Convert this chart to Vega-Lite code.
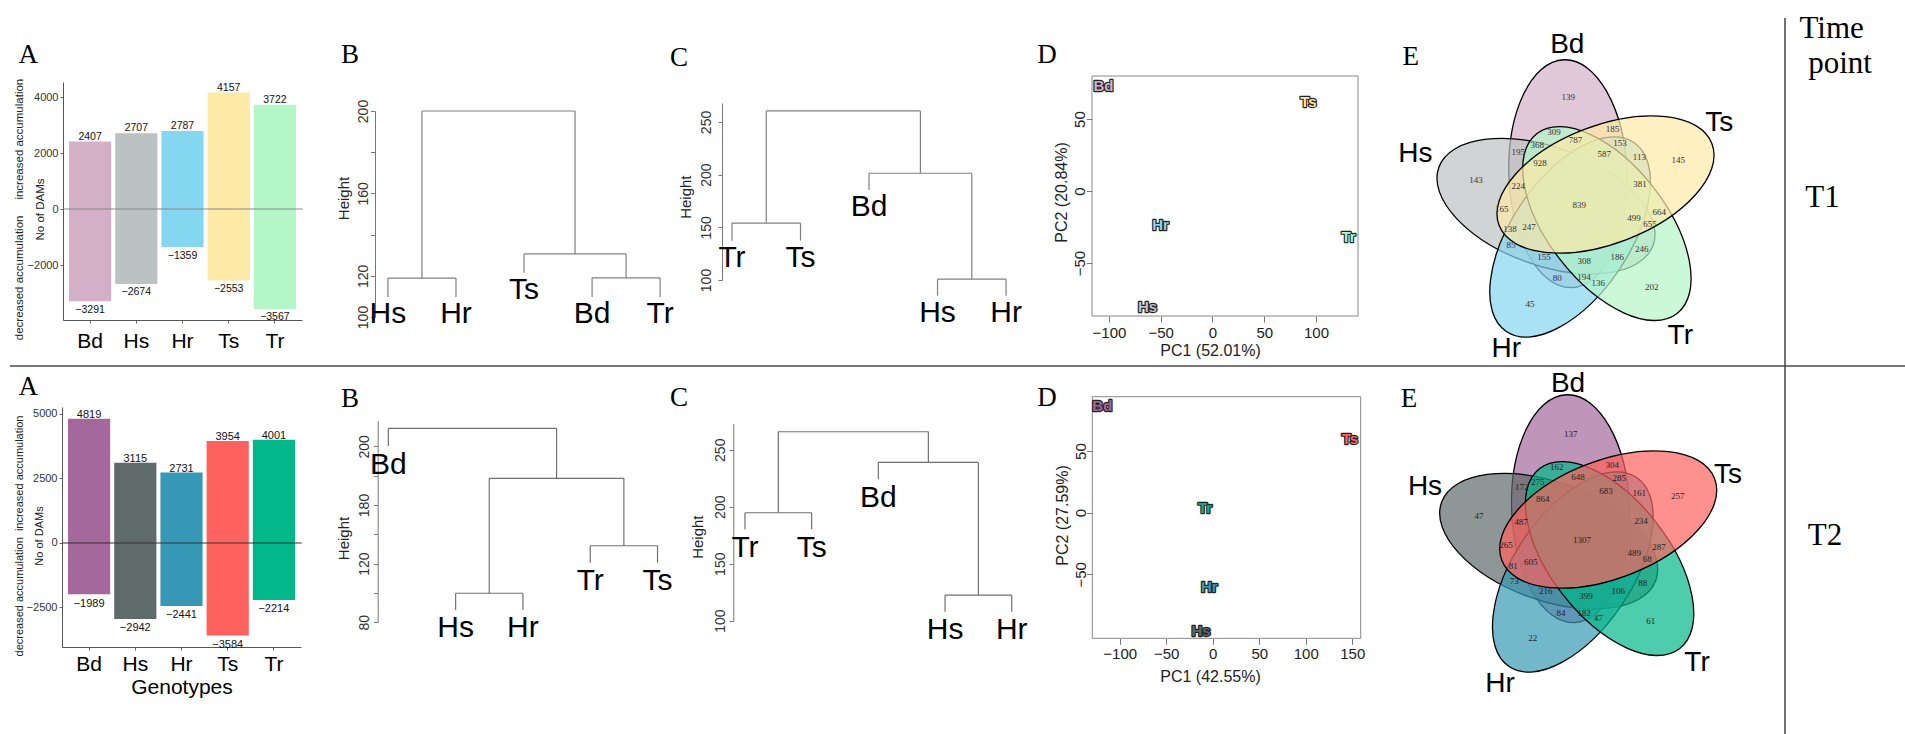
{
  "$schema": "https://vega.github.io/schema/vega-lite/v6.json",
  "width": 1905,
  "height": 734,
  "padding": 0,
  "autosize": {"type": "none"},
  "background": "white",
  "config": {
    "view": {"stroke": null},
    "font": "Liberation Sans",
    "axis": {"grid": false, "labelFont": "Liberation Sans", "titleFont": "Liberation Sans", "titleFontWeight": "normal", "labelColor": "#333", "titleColor": "#222", "domainColor": "#666", "tickColor": "#666", "labelOverlap": false, "labelFlush": false},
    "text": {"font": "Liberation Sans"}
  },
  "datasets": {
    "barsT1": [{"g":"Bd","up":2407,"down":-3291},{"g":"Hs","up":2707,"down":-2674},{"g":"Hr","up":2787,"down":-1359},{"g":"Ts","up":4157,"down":-2553},{"g":"Tr","up":3722,"down":-3567}],
    "barsT2": [{"g":"Bd","up":4819,"down":-1989},{"g":"Hs","up":3115,"down":-2942},{"g":"Hr","up":2731,"down":-2441},{"g":"Ts","up":3954,"down":-3584},{"g":"Tr","up":4001,"down":-2214}],
    "B1seg": [{"x":1,"x2":2,"y":118.9,"y2":118.9},{"x":1,"x2":1,"y":118.9,"y2":109.7},{"x":2,"x2":2,"y":118.9,"y2":109.7},{"x":4,"x2":5,"y":119,"y2":119},{"x":4,"x2":4,"y":119,"y2":109.7},{"x":5,"x2":5,"y":119,"y2":109.7},{"x":3,"x2":4.5,"y":130.6,"y2":130.6},{"x":3,"x2":3,"y":130.6,"y2":121.5},{"x":4.5,"x2":4.5,"y":130.6,"y2":119},{"x":1.5,"x2":3.75,"y":200,"y2":200},{"x":1.5,"x2":1.5,"y":200,"y2":118.9},{"x":3.75,"x2":3.75,"y":200,"y2":130.6}],
    "B1leaf": [{"label":"Hs","pos":1,"end":109.7},{"label":"Hr","pos":2,"end":109.7},{"label":"Ts","pos":3,"end":121.5},{"label":"Bd","pos":4,"end":109.7},{"label":"Tr","pos":5,"end":109.7}],
    "C1seg": [{"x":1,"x2":2,"y":154,"y2":154},{"x":1,"x2":1,"y":154,"y2":137.3},{"x":2,"x2":2,"y":154,"y2":137.3},{"x":4,"x2":5,"y":100.9,"y2":100.9},{"x":4,"x2":4,"y":100.9,"y2":85.1},{"x":5,"x2":5,"y":100.9,"y2":85.1},{"x":3,"x2":4.5,"y":201.3,"y2":201.3},{"x":3,"x2":3,"y":201.3,"y2":185.5},{"x":4.5,"x2":4.5,"y":201.3,"y2":100.9},{"x":1.5,"x2":3.75,"y":260.5,"y2":260.5},{"x":1.5,"x2":1.5,"y":260.5,"y2":154},{"x":3.75,"x2":3.75,"y":260.5,"y2":201.3}],
    "C1leaf": [{"label":"Tr","pos":1,"end":137.3},{"label":"Ts","pos":2,"end":137.3},{"label":"Bd","pos":3,"end":185.5},{"label":"Hs","pos":4,"end":85.1},{"label":"Hr","pos":5,"end":85.1}],
    "B2seg": [{"x":2,"x2":3,"y":99.8,"y2":99.8},{"x":2,"x2":2,"y":99.8,"y2":88.4},{"x":3,"x2":3,"y":99.8,"y2":88.4},{"x":4,"x2":5,"y":132.2,"y2":132.2},{"x":4,"x2":4,"y":132.2,"y2":120.6},{"x":5,"x2":5,"y":132.2,"y2":120.6},{"x":2.5,"x2":4.5,"y":178.2,"y2":178.2},{"x":2.5,"x2":2.5,"y":178.2,"y2":99.8},{"x":4.5,"x2":4.5,"y":178.2,"y2":132.2},{"x":1,"x2":3.5,"y":212.3,"y2":212.3},{"x":1,"x2":1,"y":212.3,"y2":200.2},{"x":3.5,"x2":3.5,"y":212.3,"y2":178.2}],
    "B2leaf": [{"label":"Bd","pos":1,"end":200.2},{"label":"Hs","pos":2,"end":88.4},{"label":"Hr","pos":3,"end":88.4},{"label":"Tr","pos":4,"end":120.6},{"label":"Ts","pos":5,"end":120.6}],
    "C2seg": [{"x":1,"x2":2,"y":194.7,"y2":194.7},{"x":1,"x2":1,"y":194.7,"y2":180.2},{"x":2,"x2":2,"y":194.7,"y2":180.2},{"x":4,"x2":5,"y":122.5,"y2":122.5},{"x":4,"x2":4,"y":122.5,"y2":107.9},{"x":5,"x2":5,"y":122.5,"y2":107.9},{"x":3,"x2":4.5,"y":238.9,"y2":238.9},{"x":3,"x2":3,"y":238.9,"y2":224},{"x":4.5,"x2":4.5,"y":238.9,"y2":122.5},{"x":1.5,"x2":3.75,"y":265.8,"y2":265.8},{"x":1.5,"x2":1.5,"y":265.8,"y2":194.7},{"x":3.75,"x2":3.75,"y":265.8,"y2":238.9}],
    "C2leaf": [{"label":"Tr","pos":1,"end":180.2},{"label":"Ts","pos":2,"end":180.2},{"label":"Bd","pos":3,"end":224},{"label":"Hs","pos":4,"end":107.9},{"label":"Hr","pos":5,"end":107.9}],
    "pcaT1": [{"label":"Bd","pc1":-105.3,"pc2":72.9},{"label":"Ts","pc1":92.8,"pc2":61.8},{"label":"Hr","pc1":-50.2,"pc2":-23.6},{"label":"Tr","pc1":131.4,"pc2":-31.9},{"label":"Hs","pc1":-62.8,"pc2":-80.6}],
    "pcaT2": [{"label":"Bd","pc1":-118.7,"pc2":86.5},{"label":"Ts","pc1":147.6,"pc2":59.5},{"label":"Tr","pc1":-8.3,"pc2":4.1},{"label":"Hr","pc1":-3.7,"pc2":-60},{"label":"Hs","pc1":-12.6,"pc2":-95.7}],
    "ell": [{"set":"Bd","cx":-0.114,"cy":0.313,"rot":-92},{"set":"Hs","cx":-0.333,"cy":-0.012,"rot":200},{"set":"Hr","cx":-0.092,"cy":-0.32,"rot":124},{"set":"Tr","cx":0.276,"cy":-0.186,"rot":52},{"set":"Ts","cx":0.262,"cy":0.205,"rot":-21}],
    "E1num": [{"n":139,"x":-0.11,"y":1.077},{"n":309,"x":-0.253,"y":0.733},{"n":185,"x":0.333,"y":0.757},{"n":787,"x":-0.037,"y":0.65},{"n":368,"x":-0.42,"y":0.6},{"n":153,"x":0.407,"y":0.623},{"n":195,"x":-0.61,"y":0.533},{"n":587,"x":0.25,"y":0.507},{"n":113,"x":0.6,"y":0.483},{"n":145,"x":0.99,"y":0.45},{"n":928,"x":-0.393,"y":0.423},{"n":143,"x":-1.033,"y":0.25},{"n":224,"x":-0.61,"y":0.19},{"n":381,"x":0.607,"y":0.21},{"n":839,"x":0,"y":0},{"n":165,"x":-0.776,"y":-0.043},{"n":664,"x":0.8,"y":-0.073},{"n":499,"x":0.547,"y":-0.133},{"n":655,"x":0.707,"y":-0.193},{"n":138,"x":-0.693,"y":-0.243},{"n":247,"x":-0.503,"y":-0.223},{"n":85,"x":-0.683,"y":-0.4},{"n":246,"x":0.624,"y":-0.443},{"n":155,"x":-0.353,"y":-0.517},{"n":308,"x":0.05,"y":-0.557},{"n":186,"x":0.38,"y":-0.517},{"n":80,"x":-0.22,"y":-0.727},{"n":194,"x":0.047,"y":-0.723},{"n":136,"x":0.19,"y":-0.783},{"n":202,"x":0.724,"y":-0.817},{"n":45,"x":-0.493,"y":-0.99}],
    "E2num": [{"n":137,"x":-0.113,"y":1.06},{"n":162,"x":-0.253,"y":0.727},{"n":304,"x":0.303,"y":0.747},{"n":648,"x":-0.04,"y":0.633},{"n":285,"x":0.373,"y":0.617},{"n":275,"x":-0.443,"y":0.583},{"n":172,"x":-0.603,"y":0.527},{"n":683,"x":0.24,"y":0.493},{"n":161,"x":0.573,"y":0.473},{"n":257,"x":0.957,"y":0.44},{"n":864,"x":-0.393,"y":0.413},{"n":47,"x":-1.03,"y":0.243},{"n":234,"x":0.59,"y":0.193},{"n":487,"x":-0.61,"y":0.177},{"n":1307,"x":0,"y":0},{"n":265,"x":-0.76,"y":-0.05},{"n":287,"x":0.77,"y":-0.073},{"n":489,"x":0.523,"y":-0.133},{"n":68,"x":0.653,"y":-0.193},{"n":81,"x":-0.687,"y":-0.26},{"n":605,"x":-0.513,"y":-0.22},{"n":73,"x":-0.677,"y":-0.41},{"n":88,"x":0.607,"y":-0.433},{"n":216,"x":-0.363,"y":-0.51},{"n":399,"x":0.04,"y":-0.56},{"n":106,"x":0.363,"y":-0.51},{"n":84,"x":-0.21,"y":-0.727},{"n":182,"x":0.02,"y":-0.727},{"n":47,"x":0.163,"y":-0.777},{"n":61,"x":0.687,"y":-0.81},{"n":22,"x":-0.493,"y":-0.977}],
    "E1lab": [{"set":"Bd","x":-0.12,"y":1.6},{"set":"Ts","x":1.4,"y":0.82},{"set":"Tr","x":1.01,"y":-1.31},{"set":"Hr","x":-0.73,"y":-1.44},{"set":"Hs","x":-1.64,"y":0.51}],
    "E2lab": [{"set":"Bd","x":-0.14,"y":1.56},{"set":"Ts","x":1.46,"y":0.65},{"set":"Tr","x":1.15,"y":-1.23},{"set":"Hr","x":-0.82,"y":-1.44},{"set":"Hs","x":-1.57,"y":0.53}]
  },
  "layer": [
    {"data": {"name": "barsT1"}, "mark": {"type": "bar"},
     "encoding": {
       "x": {"field": "g", "type": "nominal", "scale": {"type": "band", "domain": ["Bd","Hs","Hr","Ts","Tr"], "range": [63, 302], "paddingInner": 0.087, "paddingOuter": 0.13},
             "axis": {"orient": "bottom", "offset": -414, "title": null, "labelAngle": 0, "labelFontSize": 21, "labelColor": "#000", "tickSize": 3, "labelPadding": 7, "domainColor": "#555"}},
       "y": {"field": "down", "type": "quantitative", "scale": {"domain": [-3964, 4536], "range": [320, 82], "zero": false, "nice": false},
             "axis": {"orient": "left", "offset": -63, "values": [-2000, 0, 2000, 4000], "format": "d", "labelFontSize": 11, "tickSize": 3, "labelPadding": 2, "domainColor": "#555",
                      "title": ["decreased accumulation\u00a0\u00a0\u00a0\u00a0\u00a0increased accumulation", "No of DAMs"], "titleFontSize": 11.5, "titleLineHeight": 21, "titleAngle": 270, "titleBaseline": "bottom", "titleAlign": "center", "titleX": -38.7, "titleY": 209}},
       "y2": {"field": "up"},
       "color": {"field": "g", "type": "nominal", "scale": {"domain": ["Bd","Hs","Hr","Ts","Tr"], "range": ["#d3b0c8","#bcc2c3","#85d6f0","#fdeaa7","#b5f6c8"]}, "legend": null}
     }},
    {"data": {"values": [{}]}, "mark": {"type": "rule", "color": "#888", "strokeWidth": 1},
     "encoding": {"x": {"datum": "Bd", "type": "nominal", "bandPosition": -0.14, "scale": {"type": "band", "domain": ["Bd","Hs","Hr","Ts","Tr"], "range": [63, 302], "paddingInner": 0.087, "paddingOuter": 0.13}, "axis": null},
                  "x2": {"datum": "Tr", "bandPosition": 1.16},
                  "y": {"datum": 0, "type": "quantitative", "scale": {"domain": [-3964, 4536], "range": [320, 82], "zero": false, "nice": false}, "axis": null}}},
    {"data": {"name": "barsT1"}, "mark": {"type": "text", "baseline": "alphabetic", "dy": -2, "fontSize": 10.5, "color": "#111"},
     "encoding": {"x": {"field": "g", "type": "nominal", "scale": {"type": "band", "domain": ["Bd","Hs","Hr","Ts","Tr"], "range": [63, 302], "paddingInner": 0.087, "paddingOuter": 0.13}, "axis": null},
                  "y": {"field": "up", "type": "quantitative", "scale": {"domain": [-3964, 4536], "range": [320, 82], "zero": false, "nice": false}, "axis": null},
                  "text": {"field": "up", "type": "quantitative", "format": "d"}}},
    {"data": {"name": "barsT1"}, "mark": {"type": "text", "baseline": "top", "dy": 3.5, "fontSize": 10.5, "color": "#111"},
     "encoding": {"x": {"field": "g", "type": "nominal", "scale": {"type": "band", "domain": ["Bd","Hs","Hr","Ts","Tr"], "range": [63, 302], "paddingInner": 0.087, "paddingOuter": 0.13}, "axis": null},
                  "y": {"field": "down", "type": "quantitative", "scale": {"domain": [-3964, 4536], "range": [320, 82], "zero": false, "nice": false}, "axis": null},
                  "text": {"field": "down", "type": "quantitative", "format": "d"}}},

    {"data": {"name": "B1seg"}, "mark": {"type": "rule", "color": "#808080", "strokeWidth": 1.2},
     "encoding": {
       "x": {"field": "x", "type": "quantitative", "scale": {"domain": [0.81, 5.16], "range": [375, 671], "zero": false, "nice": false}, "axis": null},
       "x2": {"field": "x2"},
       "y": {"field": "y", "type": "quantitative", "scale": {"domain": [100, 200], "range": [317, 111], "zero": false, "nice": false},
             "axis": {"orient": "left", "offset": -375, "values": [100, 120, 140, 160, 180, 200], "labelExpr": "datum.value == 140 || datum.value == 180 ? '' : datum.label", "labelAngle": 270, "labelAlign": "center", "labelBaseline": "middle", "labelFontSize": 14, "tickSize": 4.5, "labelPadding": 6.7, "domainColor": "#777", "tickColor": "#777",
                      "title": "Height", "titleFontSize": 15, "titleAngle": 270, "titleBaseline": "bottom", "titleAlign": "center", "titleX": -23.1, "titleY": 198}},
       "y2": {"field": "y2"}}},
    {"data": {"name": "B1leaf"}, "mark": {"type": "text", "baseline": "top", "align": "center", "fontSize": 30, "dy": 2, "color": "#000"},
     "encoding": {"x": {"field": "pos", "type": "quantitative", "scale": {"domain": [0.81, 5.16], "range": [375, 671], "zero": false, "nice": false}, "axis": null},
                  "y": {"field": "end", "type": "quantitative", "scale": {"domain": [100, 200], "range": [317, 111], "zero": false, "nice": false}, "axis": null},
                  "text": {"field": "label"}}},

    {"data": {"name": "C1seg"}, "mark": {"type": "rule", "color": "#808080", "strokeWidth": 1.2},
     "encoding": {
       "x": {"field": "x", "type": "quantitative", "scale": {"domain": [0.854, 5.16], "range": [722, 1017], "zero": false, "nice": false}, "axis": null},
       "x2": {"field": "x2"},
       "y": {"field": "y", "type": "quantitative", "scale": {"domain": [100, 268], "range": [280, 103], "zero": false, "nice": false},
             "axis": {"orient": "left", "offset": -722, "values": [100, 150, 200, 250], "labelAngle": 270, "labelAlign": "center", "labelBaseline": "middle", "labelFontSize": 14, "tickSize": 4, "labelPadding": 11.5, "domainColor": "#777", "tickColor": "#777",
                      "title": "Height", "titleFontSize": 15, "titleAngle": 270, "titleBaseline": "bottom", "titleAlign": "center", "titleX": -28.4, "titleY": 196.7}},
       "y2": {"field": "y2"}}},
    {"data": {"name": "C1leaf"}, "mark": {"type": "text", "baseline": "top", "align": "center", "fontSize": 30, "dy": 2, "color": "#000"},
     "encoding": {"x": {"field": "pos", "type": "quantitative", "scale": {"domain": [0.854, 5.16], "range": [722, 1017], "zero": false, "nice": false}, "axis": null},
                  "y": {"field": "end", "type": "quantitative", "scale": {"domain": [100, 268], "range": [280, 103], "zero": false, "nice": false}, "axis": null},
                  "text": {"field": "label"}}},

    {"data": {"values": [{}]}, "mark": {"type": "rect", "filled": false, "stroke": "#888", "strokeWidth": 1},
     "encoding": {
       "x": {"datum": -116.4, "type": "quantitative", "scale": {"domain": [-116.4, 140.6], "range": [1092, 1358], "zero": false, "nice": false},
             "axis": {"orient": "bottom", "offset": -418, "values": [-100, -50, 0, 50, 100], "domain": false, "tickSize": 6, "tickColor": "#777", "labelPadding": 3.5, "labelFontSize": 15, "labelColor": "#222",
                      "title": "PC1 (52.01%)", "titleFontSize": 16, "titleY": 26, "titleX": 1210, "titleBaseline": "top", "titleAlign": "center"}},
       "x2": {"datum": 140.6},
       "y": {"datum": -86.8, "type": "quantitative", "scale": {"domain": [-86.8, 79.9], "range": [316, 76], "zero": false, "nice": false},
             "axis": {"orient": "left", "offset": -1092, "values": [-50, 0, 50], "domain": false, "tickSize": 5.7, "tickColor": "#777", "labelPadding": 7.3, "labelAngle": 270, "labelAlign": "center", "labelBaseline": "middle", "labelFontSize": 15, "labelColor": "#222",
                      "title": "PC2 (20.84%)", "titleFontSize": 16, "titleAngle": 270, "titleBaseline": "bottom", "titleAlign": "center", "titleX": -22.6, "titleY": 192}},
       "y2": {"datum": 79.9}}},
    {"data": {"name": "pcaT1"}, "mark": {"type": "text", "fontSize": 15, "fontWeight": "bold", "stroke": "#222", "strokeWidth": 2.4, "strokeJoin": "round"},
     "encoding": {"x": {"field": "pc1", "type": "quantitative", "scale": {"domain": [-116.4, 140.6], "range": [1092, 1358], "zero": false, "nice": false}, "axis": null},
                  "y": {"field": "pc2", "type": "quantitative", "scale": {"domain": [-86.8, 79.9], "range": [316, 76], "zero": false, "nice": false}, "axis": null},
                  "text": {"field": "label"},
                  "color": {"field": "label", "type": "nominal", "scale": {"domain": ["Bd","Hs","Hr","Ts","Tr"], "range": ["#d3b0c8","#bcc2c3","#85d6f0","#fdeaa7","#b5f6c8"]}, "legend": null}}},
    {"data": {"name": "pcaT1"}, "mark": {"type": "text", "fontSize": 15, "fontWeight": "bold"},
     "encoding": {"x": {"field": "pc1", "type": "quantitative", "scale": {"domain": [-116.4, 140.6], "range": [1092, 1358], "zero": false, "nice": false}, "axis": null},
                  "y": {"field": "pc2", "type": "quantitative", "scale": {"domain": [-86.8, 79.9], "range": [316, 76], "zero": false, "nice": false}, "axis": null},
                  "text": {"field": "label"},
                  "color": {"field": "label", "type": "nominal", "scale": {"domain": ["Bd","Hs","Hr","Ts","Tr"], "range": ["#d3b0c8","#bcc2c3","#85d6f0","#fdeaa7","#b5f6c8"]}, "legend": null}}},

    {"data": {"name": "ell"},
     "mark": {"type": "point", "shape": "M 1 0 C 1 0.2858 0.5523 0.5175 0 0.5175 C -0.5523 0.5175 -1 0.2858 -1 0 C -1 -0.2858 -0.5523 -0.5175 0 -0.5175 C 0.5523 -0.5175 1 -0.2858 1 0 Z", "size": 51984, "filled": true, "opacity": 1, "fillOpacity": 0.7, "stroke": "#000", "strokeWidth": 1.3, "strokeOpacity": 1},
     "encoding": {
       "x": {"field": "cx", "type": "quantitative", "scale": {"domain": [-2, 2], "range": [1379.3, 1779.3], "zero": false, "nice": false}, "axis": null},
       "y": {"field": "cy", "type": "quantitative", "scale": {"domain": [-2, 2], "range": [405, 5], "zero": false, "nice": false}, "axis": null},
       "angle": {"field": "rot", "type": "quantitative", "scale": null},
       "color": {"field": "set", "type": "nominal", "scale": {"domain": ["Bd","Hs","Hr","Ts","Tr"], "range": ["#d3b0c8","#bcc2c3","#85d6f0","#fdeaa7","#b5f6c8"]}, "legend": null}}},
    {"data": {"name": "E1num"}, "mark": {"type": "text", "font": "Liberation Serif", "fontSize": 9, "color": "#333"},
     "encoding": {"x": {"field": "x", "type": "quantitative", "scale": {"domain": [-2, 2], "range": [1379.3, 1779.3], "zero": false, "nice": false}, "axis": null},
                  "y": {"field": "y", "type": "quantitative", "scale": {"domain": [-2, 2], "range": [405, 5], "zero": false, "nice": false}, "axis": null},
                  "text": {"field": "n", "type": "nominal"}}},
    {"data": {"name": "E1lab"}, "mark": {"type": "text", "fontSize": 28, "color": "#000"},
     "encoding": {"x": {"field": "x", "type": "quantitative", "scale": {"domain": [-2, 2], "range": [1379.3, 1779.3], "zero": false, "nice": false}, "axis": null},
                  "y": {"field": "y", "type": "quantitative", "scale": {"domain": [-2, 2], "range": [405, 5], "zero": false, "nice": false}, "axis": null},
                  "text": {"field": "set"}}},

    {"data": {"name": "barsT2"}, "mark": {"type": "bar"},
     "encoding": {
       "x": {"field": "g", "type": "nominal", "scale": {"type": "band", "domain": ["Bd","Hs","Hr","Ts","Tr"], "range": [62, 301], "paddingInner": 0.087, "paddingOuter": 0.13},
             "axis": {"orient": "bottom", "offset": -87, "labelAngle": 0, "labelFontSize": 21, "labelColor": "#000", "tickSize": 3, "labelPadding": 3.5, "domainColor": "#555",
                      "title": "Genotypes", "titleFontSize": 21, "titleColor": "#000", "titleBaseline": "top", "titleY": 29.7}},
       "y": {"field": "down", "type": "quantitative", "scale": {"domain": [-4031, 5271], "range": [647, 407], "zero": false, "nice": false},
             "axis": {"orient": "left", "offset": -62, "values": [-2500, 0, 2500, 5000], "format": "d", "labelFontSize": 11, "tickSize": 3, "labelPadding": 2, "domainColor": "#555",
                      "title": ["decreased accumulation\u00a0\u00a0increased accumulation", "No of DAMs"], "titleFontSize": 11, "titleLineHeight": 19.5, "titleAngle": 270, "titleBaseline": "bottom", "titleAlign": "center", "titleX": -37.4, "titleY": 535.5}},
       "y2": {"field": "up"},
       "color": {"field": "g", "type": "nominal", "scale": {"domain": ["Bd","Hs","Hr","Ts","Tr"], "range": ["#a4689b","#5f6a6a","#3798b5","#fd625e","#01b88a"]}, "legend": null}
     }},
    {"data": {"values": [{}]}, "mark": {"type": "rule", "color": "#333", "strokeWidth": 1},
     "encoding": {"x": {"datum": "Bd", "type": "nominal", "bandPosition": -0.14, "scale": {"type": "band", "domain": ["Bd","Hs","Hr","Ts","Tr"], "range": [62, 301], "paddingInner": 0.087, "paddingOuter": 0.13}, "axis": null},
                  "x2": {"datum": "Tr", "bandPosition": 1.16},
                  "y": {"datum": 0, "type": "quantitative", "scale": {"domain": [-4031, 5271], "range": [647, 407], "zero": false, "nice": false}, "axis": null}}},
    {"data": {"name": "barsT2"}, "mark": {"type": "text", "baseline": "alphabetic", "dy": -1, "fontSize": 11, "color": "#111"},
     "encoding": {"x": {"field": "g", "type": "nominal", "scale": {"type": "band", "domain": ["Bd","Hs","Hr","Ts","Tr"], "range": [62, 301], "paddingInner": 0.087, "paddingOuter": 0.13}, "axis": null},
                  "y": {"field": "up", "type": "quantitative", "scale": {"domain": [-4031, 5271], "range": [647, 407], "zero": false, "nice": false}, "axis": null},
                  "text": {"field": "up", "type": "quantitative", "format": "d"}}},
    {"data": {"name": "barsT2"}, "mark": {"type": "text", "baseline": "top", "dy": 3.2, "fontSize": 11, "color": "#111"},
     "encoding": {"x": {"field": "g", "type": "nominal", "scale": {"type": "band", "domain": ["Bd","Hs","Hr","Ts","Tr"], "range": [62, 301], "paddingInner": 0.087, "paddingOuter": 0.13}, "axis": null},
                  "y": {"field": "down", "type": "quantitative", "scale": {"domain": [-4031, 5271], "range": [647, 407], "zero": false, "nice": false}, "axis": null},
                  "text": {"field": "down", "type": "quantitative", "format": "d"}}},

    {"data": {"name": "B2seg"}, "mark": {"type": "rule", "color": "#707070", "strokeWidth": 1.2},
     "encoding": {
       "x": {"field": "x", "type": "quantitative", "scale": {"domain": [0.842, 5.16], "range": [377.7, 668.3], "zero": false, "nice": false}, "axis": null},
       "x2": {"field": "x2"},
       "y": {"field": "y", "type": "quantitative", "scale": {"domain": [80, 217.5], "range": [622.3, 420.7], "zero": false, "nice": false},
             "axis": {"orient": "left", "offset": -377.7, "values": [80, 100, 120, 140, 160, 180, 200], "labelExpr": "datum.value == 160 ? '180' : (datum.value == 100 || datum.value == 140 || datum.value == 180) ? '' : datum.label", "labelAngle": 270, "labelAlign": "center", "labelBaseline": "middle", "labelFontSize": 14, "tickSize": 4.3, "labelPadding": 9.1, "domainColor": "#777", "tickColor": "#777",
                      "title": "Height", "titleFontSize": 15, "titleAngle": 270, "titleBaseline": "bottom", "titleAlign": "center", "titleX": -25.8, "titleY": 538}},
       "y2": {"field": "y2"}}},
    {"data": {"name": "B2leaf"}, "mark": {"type": "text", "baseline": "top", "align": "center", "fontSize": 30, "dy": 3.5, "color": "#000"},
     "encoding": {"x": {"field": "pos", "type": "quantitative", "scale": {"domain": [0.842, 5.16], "range": [377.7, 668.3], "zero": false, "nice": false}, "axis": null},
                  "y": {"field": "end", "type": "quantitative", "scale": {"domain": [80, 217.5], "range": [622.3, 420.7], "zero": false, "nice": false}, "axis": null},
                  "text": {"field": "label"}}},

    {"data": {"name": "C2seg"}, "mark": {"type": "rule", "color": "#707070", "strokeWidth": 1.2},
     "encoding": {
       "x": {"field": "x", "type": "quantitative", "scale": {"domain": [0.825, 5.16], "range": [733.3, 1022.4], "zero": false, "nice": false}, "axis": null},
       "x2": {"field": "x2"},
       "y": {"field": "y", "type": "quantitative", "scale": {"domain": [100, 273.2], "range": [620.7, 423.3], "zero": false, "nice": false},
             "axis": {"orient": "left", "offset": -733.3, "values": [100, 150, 200, 250], "labelAngle": 270, "labelAlign": "center", "labelBaseline": "middle", "labelFontSize": 14, "tickSize": 4.3, "labelPadding": 8.3, "domainColor": "#777", "tickColor": "#777",
                      "title": "Height", "titleFontSize": 15, "titleAngle": 270, "titleBaseline": "bottom", "titleAlign": "center", "titleX": -28.1, "titleY": 536.7}},
       "y2": {"field": "y2"}}},
    {"data": {"name": "C2leaf"}, "mark": {"type": "text", "baseline": "top", "align": "center", "fontSize": 30, "dy": 3.5, "color": "#000"},
     "encoding": {"x": {"field": "pos", "type": "quantitative", "scale": {"domain": [0.825, 5.16], "range": [733.3, 1022.4], "zero": false, "nice": false}, "axis": null},
                  "y": {"field": "end", "type": "quantitative", "scale": {"domain": [100, 273.2], "range": [620.7, 423.3], "zero": false, "nice": false}, "axis": null},
                  "text": {"field": "label"}}},

    {"data": {"values": [{}]}, "mark": {"type": "rect", "filled": false, "stroke": "#888", "strokeWidth": 1},
     "encoding": {
       "x": {"datum": -129.5, "type": "quantitative", "scale": {"domain": [-129.5, 159.1], "range": [1092.3, 1360.7], "zero": false, "nice": false},
             "axis": {"orient": "bottom", "offset": -95.7, "values": [-100, -50, 0, 50, 100, 150], "domain": false, "tickSize": 6, "tickColor": "#777", "labelPadding": 2.5, "labelFontSize": 15, "labelColor": "#222",
                      "title": "PC1 (42.55%)", "titleFontSize": 16, "titleY": 29.7, "titleX": 1210, "titleBaseline": "top", "titleAlign": "center"}},
       "x2": {"datum": 159.1},
       "y": {"datum": -101.9, "type": "quantitative", "scale": {"domain": [-101.9, 94.1], "range": [638.3, 396.7], "zero": false, "nice": false},
             "axis": {"orient": "left", "offset": -1092.3, "values": [-50, 0, 50], "domain": false, "tickSize": 5.7, "tickColor": "#777", "labelPadding": 6.6, "labelAngle": 270, "labelAlign": "center", "labelBaseline": "middle", "labelFontSize": 15, "labelColor": "#222",
                      "title": "PC2 (27.59%)", "titleFontSize": 16, "titleAngle": 270, "titleBaseline": "bottom", "titleAlign": "center", "titleX": -21.9, "titleY": 515}},
       "y2": {"datum": 94.1}}},
    {"data": {"name": "pcaT2"}, "mark": {"type": "text", "fontSize": 15, "fontWeight": "bold", "stroke": "#222", "strokeWidth": 2.4, "strokeJoin": "round"},
     "encoding": {"x": {"field": "pc1", "type": "quantitative", "scale": {"domain": [-129.5, 159.1], "range": [1092.3, 1360.7], "zero": false, "nice": false}, "axis": null},
                  "y": {"field": "pc2", "type": "quantitative", "scale": {"domain": [-101.9, 94.1], "range": [638.3, 396.7], "zero": false, "nice": false}, "axis": null},
                  "text": {"field": "label"},
                  "color": {"field": "label", "type": "nominal", "scale": {"domain": ["Bd","Hs","Hr","Ts","Tr"], "range": ["#a4689b","#5f6a6a","#3798b5","#fd625e","#01b88a"]}, "legend": null}}},
    {"data": {"name": "pcaT2"}, "mark": {"type": "text", "fontSize": 15, "fontWeight": "bold"},
     "encoding": {"x": {"field": "pc1", "type": "quantitative", "scale": {"domain": [-129.5, 159.1], "range": [1092.3, 1360.7], "zero": false, "nice": false}, "axis": null},
                  "y": {"field": "pc2", "type": "quantitative", "scale": {"domain": [-101.9, 94.1], "range": [638.3, 396.7], "zero": false, "nice": false}, "axis": null},
                  "text": {"field": "label"},
                  "color": {"field": "label", "type": "nominal", "scale": {"domain": ["Bd","Hs","Hr","Ts","Tr"], "range": ["#a4689b","#5f6a6a","#3798b5","#fd625e","#01b88a"]}, "legend": null}}},

    {"data": {"name": "ell"},
     "mark": {"type": "point", "shape": "M 1 0 C 1 0.2858 0.5523 0.5175 0 0.5175 C -0.5523 0.5175 -1 0.2858 -1 0 C -1 -0.2858 -0.5523 -0.5175 0 -0.5175 C 0.5523 -0.5175 1 -0.2858 1 0 Z", "size": 51984, "filled": true, "opacity": 1, "fillOpacity": 0.7, "stroke": "#000", "strokeWidth": 1.3, "strokeOpacity": 1},
     "encoding": {
       "x": {"field": "cx", "type": "quantitative", "scale": {"domain": [-2, 2], "range": [1382, 1782], "zero": false, "nice": false}, "axis": null},
       "y": {"field": "cy", "type": "quantitative", "scale": {"domain": [-2, 2], "range": [740, 340], "zero": false, "nice": false}, "axis": null},
       "angle": {"field": "rot", "type": "quantitative", "scale": null},
       "color": {"field": "set", "type": "nominal", "scale": {"domain": ["Bd","Hs","Hr","Ts","Tr"], "range": ["#a4689b","#5f6a6a","#3798b5","#fd625e","#01b88a"]}, "legend": null}}},
    {"data": {"name": "E2num"}, "mark": {"type": "text", "font": "Liberation Serif", "fontSize": 9, "color": "#222"},
     "encoding": {"x": {"field": "x", "type": "quantitative", "scale": {"domain": [-2, 2], "range": [1382, 1782], "zero": false, "nice": false}, "axis": null},
                  "y": {"field": "y", "type": "quantitative", "scale": {"domain": [-2, 2], "range": [740, 340], "zero": false, "nice": false}, "axis": null},
                  "text": {"field": "n", "type": "nominal"}}},
    {"data": {"name": "E2lab"}, "mark": {"type": "text", "fontSize": 28, "color": "#000"},
     "encoding": {"x": {"field": "x", "type": "quantitative", "scale": {"domain": [-2, 2], "range": [1382, 1782], "zero": false, "nice": false}, "axis": null},
                  "y": {"field": "y", "type": "quantitative", "scale": {"domain": [-2, 2], "range": [740, 340], "zero": false, "nice": false}, "axis": null},
                  "text": {"field": "set"}}},

    {
      "data": {"values": [{}]},
      "layer": [
        {"mark": {"type": "rule", "color": "#777", "strokeWidth": 2},
         "encoding": {"x": {"datum": 0.525, "type": "quantitative", "scale": {"domain": [0, 100], "range": [0, 1905], "zero": false, "nice": false}, "axis": null}, "x2": {"datum": 100},
                      "y": {"datum": 49.86, "type": "quantitative", "scale": {"domain": [0, 100], "range": [0, 734], "zero": false, "nice": false}, "axis": null}}},
        {"mark": {"type": "rule", "color": "#444", "strokeWidth": 1.5},
         "encoding": {"x": {"datum": 93.7, "type": "quantitative", "axis": null}, "y": {"datum": 2.45, "type": "quantitative", "axis": null}, "y2": {"datum": 100}}},
        {"mark": {"type": "text", "text": "A", "font": "Liberation Serif", "fontSize": 27, "baseline": "middle", "color": "#000"},
         "encoding": {"x": {"datum": 1.486, "type": "quantitative", "axis": null}, "y": {"datum": 7.49, "type": "quantitative", "axis": null}}},
        {"mark": {"type": "text", "text": "B", "font": "Liberation Serif", "fontSize": 27, "baseline": "middle", "color": "#000"},
         "encoding": {"x": {"datum": 18.37, "type": "quantitative", "axis": null}, "y": {"datum": 7.49, "type": "quantitative", "axis": null}}},
        {"mark": {"type": "text", "text": "C", "font": "Liberation Serif", "fontSize": 27, "baseline": "middle", "color": "#000"},
         "encoding": {"x": {"datum": 35.64, "type": "quantitative", "axis": null}, "y": {"datum": 7.9, "type": "quantitative", "axis": null}}},
        {"mark": {"type": "text", "text": "D", "font": "Liberation Serif", "fontSize": 27, "baseline": "middle", "color": "#000"},
         "encoding": {"x": {"datum": 54.96, "type": "quantitative", "axis": null}, "y": {"datum": 7.49, "type": "quantitative", "axis": null}}},
        {"mark": {"type": "text", "text": "E", "font": "Liberation Serif", "fontSize": 27, "baseline": "middle", "color": "#000"},
         "encoding": {"x": {"datum": 74.05, "type": "quantitative", "axis": null}, "y": {"datum": 7.72, "type": "quantitative", "axis": null}}},
        {"mark": {"type": "text", "text": "A", "font": "Liberation Serif", "fontSize": 27, "baseline": "middle", "color": "#000"},
         "encoding": {"x": {"datum": 1.486, "type": "quantitative", "axis": null}, "y": {"datum": 52.68, "type": "quantitative", "axis": null}}},
        {"mark": {"type": "text", "text": "B", "font": "Liberation Serif", "fontSize": 27, "baseline": "middle", "color": "#000"},
         "encoding": {"x": {"datum": 18.37, "type": "quantitative", "axis": null}, "y": {"datum": 54.4, "type": "quantitative", "axis": null}}},
        {"mark": {"type": "text", "text": "C", "font": "Liberation Serif", "fontSize": 27, "baseline": "middle", "color": "#000"},
         "encoding": {"x": {"datum": 35.64, "type": "quantitative", "axis": null}, "y": {"datum": 54.27, "type": "quantitative", "axis": null}}},
        {"mark": {"type": "text", "text": "D", "font": "Liberation Serif", "fontSize": 27, "baseline": "middle", "color": "#000"},
         "encoding": {"x": {"datum": 54.96, "type": "quantitative", "axis": null}, "y": {"datum": 54.22, "type": "quantitative", "axis": null}}},
        {"mark": {"type": "text", "text": "E", "font": "Liberation Serif", "fontSize": 27, "baseline": "middle", "color": "#000"},
         "encoding": {"x": {"datum": 73.96, "type": "quantitative", "axis": null}, "y": {"datum": 54.4, "type": "quantitative", "axis": null}}},
        {"mark": {"type": "text", "text": "Time", "font": "Liberation Serif", "fontSize": 31, "baseline": "alphabetic", "color": "#000"},
         "encoding": {"x": {"datum": 96.15, "type": "quantitative", "axis": null}, "y": {"datum": 5.22, "type": "quantitative", "axis": null}}},
        {"mark": {"type": "text", "text": "point", "font": "Liberation Serif", "fontSize": 31, "baseline": "alphabetic", "color": "#000"},
         "encoding": {"x": {"datum": 96.59, "type": "quantitative", "axis": null}, "y": {"datum": 9.99, "type": "quantitative", "axis": null}}},
        {"mark": {"type": "text", "text": "T1", "font": "Liberation Serif", "fontSize": 31, "baseline": "alphabetic", "color": "#000"},
         "encoding": {"x": {"datum": 95.67, "type": "quantitative", "axis": null}, "y": {"datum": 28.16, "type": "quantitative", "axis": null}}},
        {"mark": {"type": "text", "text": "T2", "font": "Liberation Serif", "fontSize": 31, "baseline": "alphabetic", "color": "#000"},
         "encoding": {"x": {"datum": 95.8, "type": "quantitative", "axis": null}, "y": {"datum": 74.25, "type": "quantitative", "axis": null}}}
      ]
    }
  ],
  "resolve": {"scale": {"x": "independent", "y": "independent", "color": "independent"}, "axis": {"x": "independent", "y": "independent"}, "legend": {"color": "independent"}}
}
